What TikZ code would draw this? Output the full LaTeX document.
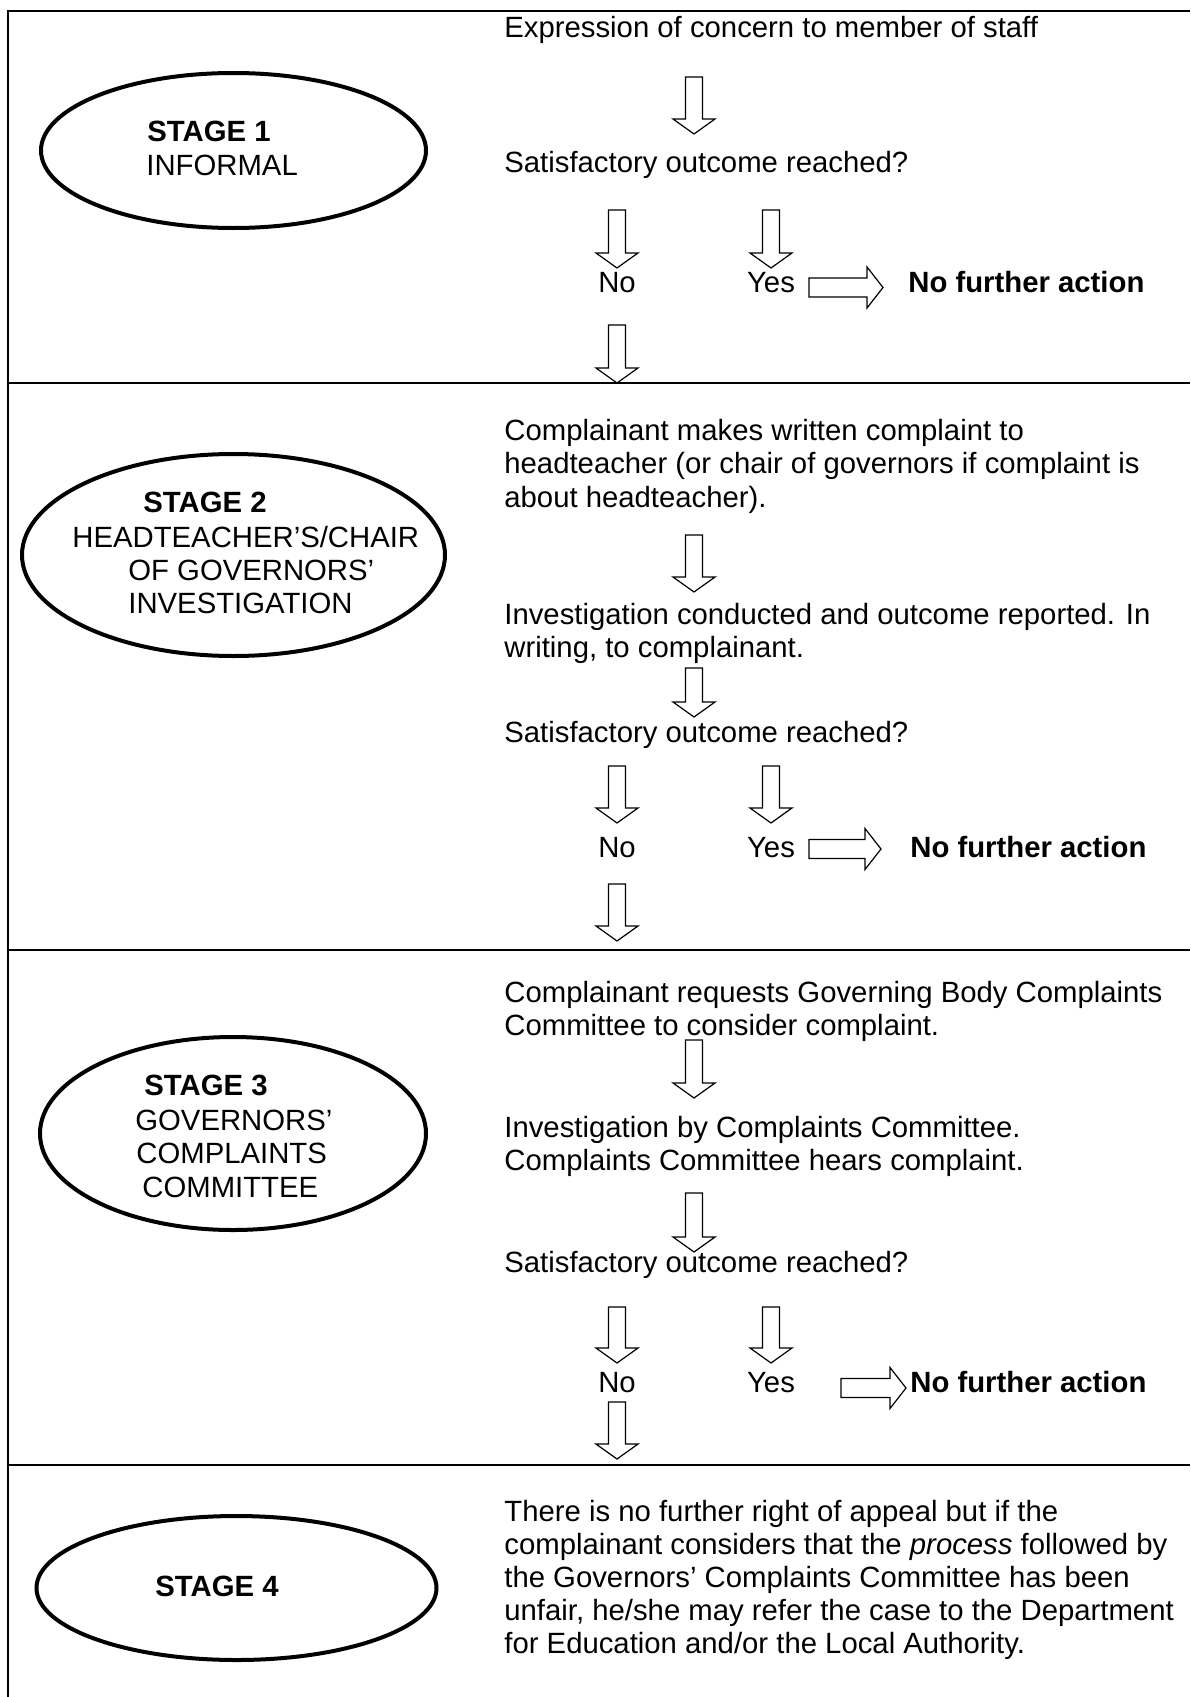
\documentclass[tikz,border=0pt]{standalone}
\usepackage{fontspec}
\setmainfont{Liberation Sans}
\usetikzlibrary{shapes.geometric,calc}
\tikzset{
  frame/.style={line width=1.4pt},
  ell/.style={ellipse, draw, line width=2pt, inner sep=0pt},
  txt/.style={anchor=base west, inner sep=0pt, font=\fontsize{14.65pt}{16.6pt}\selectfont},
  btxt/.style={anchor=base west, inner sep=0pt, font=\fontsize{14.65pt}{16.6pt}\selectfont\bfseries},
  ctxt/.style={anchor=base, inner sep=0pt, font=\fontsize{14.65pt}{16.6pt}\selectfont},
  blk/.style={draw, line width=0.6pt, line join=miter},
}
\newcommand\vblockarrow[2]{\draw[blk] ($(#1)+(-8.5,0)$) -- ($(#1)+(8.5,0)$) -- ($(#2)+(8.5,-15)$) -- ($(#2)+(21,-15)$) -- (#2) -- ($(#2)+(-21,-15)$) -- ($(#2)+(-8.5,-15)$) -- cycle;}
\newcommand\hblockarrow[2]{\draw[blk] ($(#1)+(0,-9.5)$) -- ($(#2)+(-16,-9.5)$) -- ($(#2)+(-16,-20.5)$) -- (#2) -- ($(#2)+(-16,20.5)$) -- ($(#2)+(-16,9.5)$) -- ($(#1)+(0,9.5)$) -- cycle;}
\begin{document}
\begin{tikzpicture}[x=0.5pt, y=-0.5pt]
\useasboundingbox (0,0) rectangle (1190,1697);
% frame
\draw[frame] (8,1697) -- (8,11) -- (1190,11);
\draw[frame] (8,383) -- (1190,383);
\draw[frame] (8,950) -- (1190,950);
\draw[frame] (8,1465) -- (1190,1465);

% ellipses
\node[ell, minimum width=192.5pt, minimum height=77.5pt] (e1) at (233.5,150.5) {};
\node[ell, minimum width=211.5pt, minimum height=101pt] (e2) at (233.5,555) {};
\node[ell, minimum width=193pt, minimum height=96.5pt] (e3) at (233,1133.5) {};
\node[ell, minimum width=200pt, minimum height=72pt] (e4) at (236.5,1588) {};

\node[btxt] (s1a) at (147,141) {STAGE 1};
\node[txt] (s1b) at (146,175) {INFORMAL};
\node[btxt] (s2a) at (143,512) {STAGE 2};
\node[txt] (s2b) at (72,547) {HEADTEACHER’S/CHAIR};
\node[txt] (s2c) at (128,580) {OF GOVERNORS’};
\node[txt] (s2d) at (128,613) {INVESTIGATION};
\node[btxt] (s3a) at (144,1095) {STAGE 3};
\node[txt] (s3b) at (135,1130) {GOVERNORS’};
\node[txt] (s3c) at (136,1163) {COMPLAINTS};
\node[txt] (s3d) at (142,1197) {COMMITTEE};
\node[btxt] (s4a) at (155,1596) {STAGE 4};

% stage 1
\node[txt] (t1a) at (504,37) {Expression of concern to member of staff};
\node[txt] (t1b) at (504,172) {Satisfactory outcome reached?};
\node[ctxt] (no1) at (617,292) {No};
\node[ctxt] (yes1) at (771,292) {Yes};
\node[btxt] (nfa1) at (908,292) {No further action};
\coordinate (a1s) at (694,77);  \coordinate (a1e) at (694,134);
\coordinate (n1s) at (617,210); \coordinate (n1e) at (617,268);
\coordinate (y1s) at (771,210); \coordinate (y1e) at (771,268);
\coordinate (h1s) at (809,287.5); \coordinate (h1e) at (883,287.5);
\coordinate (b1s) at (617,325); \coordinate (b1e) at (617,383);
\vblockarrow{a1s}{a1e}
\vblockarrow{n1s}{n1e}
\vblockarrow{y1s}{y1e}
\hblockarrow{h1s}{h1e}
\vblockarrow{b1s}{b1e}

% stage 2
\node[txt] (t2a) at (504,440) {Complainant makes written complaint to};
\node[txt] (t2b) at (504,473.5) {headteacher (or chair of governors if complaint is};
\node[txt] (t2c) at (504,507) {about headteacher).};
\node[txt] (t2d) at (504,624) {Investigation conducted and outcome reported. In};
\node[txt] (t2e) at (504,657.5) {writing, to complainant.};
\node[txt] (t2f) at (504,742) {Satisfactory outcome reached?};
\node[ctxt] (no2) at (617,857) {No};
\node[ctxt] (yes2) at (771,857) {Yes};
\node[btxt] (nfa2) at (910,857) {No further action};
\coordinate (a2s) at (694,535);  \coordinate (a2e) at (694,592);
\coordinate (a3s) at (694,668);  \coordinate (a3e) at (694,717);
\coordinate (n2s) at (617,766); \coordinate (n2e) at (617,823);
\coordinate (y2s) at (771,766); \coordinate (y2e) at (771,823);
\coordinate (h2s) at (809,849); \coordinate (h2e) at (881,849);
\coordinate (b2s) at (617,884); \coordinate (b2e) at (617,941);
\vblockarrow{a2s}{a2e}
\vblockarrow{a3s}{a3e}
\vblockarrow{n2s}{n2e}
\vblockarrow{y2s}{y2e}
\hblockarrow{h2s}{h2e}
\vblockarrow{b2s}{b2e}

% stage 3
\node[txt] (t3a) at (504,1002) {Complainant requests Governing Body Complaints};
\node[txt] (t3b) at (504,1035) {Committee to consider complaint.};
\node[txt] (t3c) at (504,1137) {Investigation by Complaints Committee.};
\node[txt] (t3d) at (504,1170) {Complaints Committee hears complaint.};
\node[txt] (t3e) at (504,1272) {Satisfactory outcome reached?};
\node[ctxt] (no3) at (617,1392) {No};
\node[ctxt] (yes3) at (771,1392) {Yes};
\node[btxt] (nfa3) at (910,1392) {No further action};
\coordinate (a4s) at (694,1040);  \coordinate (a4e) at (694,1098);
\coordinate (a5s) at (694,1193);  \coordinate (a5e) at (694,1252);
\coordinate (n3s) at (617,1307); \coordinate (n3e) at (617,1363);
\coordinate (y3s) at (771,1307); \coordinate (y3e) at (771,1363);
\coordinate (h3s) at (841,1388); \coordinate (h3e) at (906,1388);
\coordinate (b3s) at (617,1402); \coordinate (b3e) at (617,1459);
\vblockarrow{a4s}{a4e}
\vblockarrow{a5s}{a5e}
\vblockarrow{n3s}{n3e}
\vblockarrow{y3s}{y3e}
\hblockarrow{h3s}{h3e}
\vblockarrow{b3s}{b3e}

% stage 4
\node[txt] (t4a) at (504,1521) {There is no further right of appeal but if the};
\node[txt] (t4b) at (504,1554) {complainant considers that the \textit{process} followed by};
\node[txt] (t4c) at (504,1587) {the Governors’ Complaints Committee has been};
\node[txt] (t4d) at (504,1620) {unfair, he/she may refer the case to the Department};
\node[txt] (t4e) at (504,1653) {for Education and/or the Local Authority.};
\end{tikzpicture}
\end{document}
